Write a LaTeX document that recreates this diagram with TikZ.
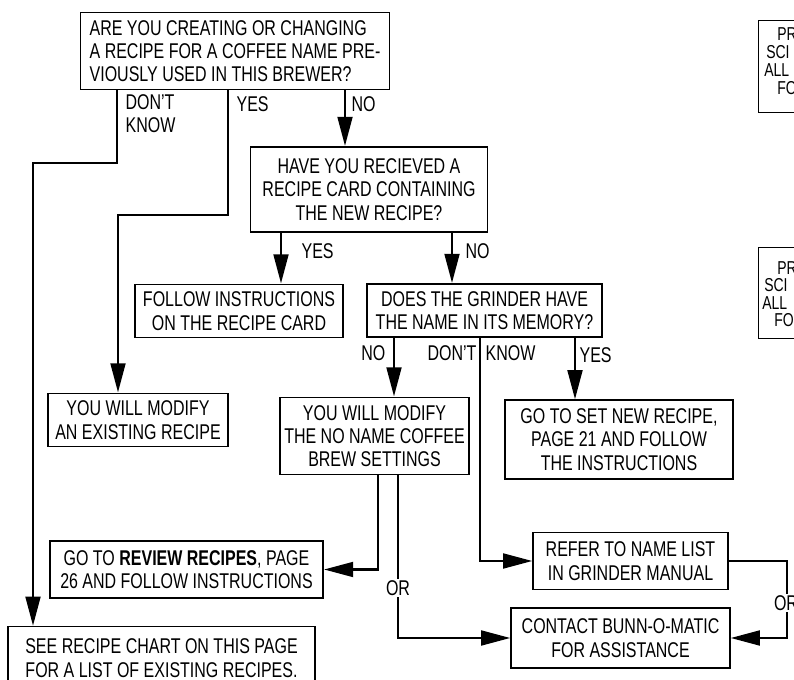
\documentclass[tikz,border=0pt]{standalone}
\usepackage{fontspec}
\setmainfont{Liberation Sans}[FakeStretch=0.75]
\usepackage{tikz}
\usetikzlibrary{arrows.meta, positioning, calc}

\begin{document}
\begin{tikzpicture}[
    x=0.75pt, y=-0.75pt,
    every node/.style={font=\fontsize{16}{17.5}\selectfont},
    box/.style={draw, rectangle, align=center, line width=1.1pt, inner sep=2pt},
    answer/.style={inner sep=1pt},
    ortag/.style={fill=white, inner sep=1pt},
    sidetext/.style={anchor=west, inner sep=0pt, font=\fontsize{14}{15}\selectfont},
    flow/.style={line width=2.2pt, -{Triangle[length=22pt, width=11pt]}},
    link/.style={line width=2.2pt}
]
    \useasboundingbox (0,0) rectangle (794,680);
    \clip (0,0) rectangle (794,680);

    % Questions
    \node[box, align=left, minimum width=232pt, minimum height=58pt] (recipe) at (235,51)
        {ARE YOU CREATING OR CHANGING\\A RECIPE FOR A COFFEE NAME PRE-\\VIOUSLY USED IN THIS BREWER?};
    \node[box, minimum width=178pt, minimum height=64pt] (card) at (369,189.5)
        {HAVE YOU RECIEVED A\\RECIPE CARD CONTAINING\\THE NEW RECIPE?};
    \node[box, minimum width=176pt, minimum height=40pt] (memory) at (484.5,310.5)
        {DOES THE GRINDER HAVE\\THE NAME IN ITS MEMORY?};

    % Actions
    \node[box, minimum width=156pt, minimum height=40pt] (follow) at (239,311)
        {FOLLOW INSTRUCTIONS\\ON THE RECIPE CARD};
    \node[box, minimum width=135pt, minimum height=40pt] (existing) at (138,420)
        {YOU WILL MODIFY\\AN EXISTING RECIPE};
    \node[box, minimum width=142pt, minimum height=58pt] (noname) at (374.5,436)
        {YOU WILL MODIFY\\THE NO NAME COFFEE\\BREW SETTINGS};
    \node[box, minimum width=171pt, minimum height=59pt] (setnew) at (619,439.5)
        {GO TO SET NEW RECIPE,\\PAGE 21 AND FOLLOW\\THE INSTRUCTIONS};
    \node[box, minimum width=205pt, minimum height=43pt] (review) at (186.5,569.5)
        {GO TO \textbf{REVIEW RECIPES}, PAGE\\26 AND FOLLOW INSTRUCTIONS};
    \node[box, minimum width=146pt, minimum height=43pt] (namelist) at (630.5,561)
        {REFER TO NAME LIST\\IN GRINDER MANUAL};
    \node[box, minimum width=164pt, minimum height=45pt] (contact) at (620.5,638)
        {CONTACT BUNN-O-MATIC\\FOR ASSISTANCE};
    \node[box, minimum width=230pt, minimum height=47pt] (chart) at (161.5,658)
        {SEE RECIPE CHART ON THIS PAGE\\FOR A LIST OF EXISTING RECIPES.};

    % Boxes cut at the right edge
    \node[box, anchor=north west, minimum width=45pt, minimum height=69pt] (sideA) at (758,20) {};
    \node[sidetext] (sideA1) at (777,34) {PR};
    \node[sidetext] (sideA2) at (766,52) {SCI};
    \node[sidetext] (sideA3) at (764,70) {ALL};
    \node[sidetext] (sideA4) at (777,88) {FO};
    \node[box, anchor=north west, minimum width=45pt, minimum height=68pt] (sideB) at (758,247) {};
    \node[sidetext] (sideB1) at (777,268) {PR};
    \node[sidetext] (sideB2) at (764,285) {SCI};
    \node[sidetext] (sideB3) at (762,303) {ALL};
    \node[sidetext] (sideB4) at (774,320) {FO};

    % First question
    \draw[flow] (recipe.south -| 117,0) -- (117,163) -| (chart.north -| 33,0);
    \draw[flow] (recipe.south -| 228,0) -- (228,215) -| (existing.north -| 118,0);
    \draw[flow] (recipe.south -| 345,0) -- (card.north -| 345,0);
    \node[answer, anchor=north west, align=left] (dk1) at (124,93) {DON'T\\KNOW};
    \node[answer, anchor=west] (yes1) at (235,104) {YES};
    \node[answer, anchor=west] (no1) at (350,104) {NO};

    % Recipe card
    \draw[flow] (card.south -| 281,0) -- (follow.north -| 281,0);
    \draw[flow] (card.south -| 452,0) -- (memory.north -| 452,0);
    \node[answer, anchor=west] (yes2) at (300,251) {YES};
    \node[answer, anchor=west] (no2) at (464,251) {NO};

    % Grinder memory
    \draw[flow] (memory.south -| 394,0) -- (noname.north -| 394,0);
    \draw[flow] (memory.south -| 480,0) |- (namelist.west);
    \draw[flow] (memory.south -| 575,0) -- (setnew.north -| 575,0);
    \node[answer, anchor=east] (no3) at (387,353) {NO};
    \node[answer, anchor=east] (dk3) at (478,353) {DON'T};
    \node[answer, anchor=west] (kn3) at (484,353) {KNOW};
    \node[answer, anchor=west] (yes3) at (578,355) {YES};

    % No name settings
    \draw[flow] (noname.south -| 378,0) |- (review.east);
    \draw[flow] (noname.south -| 398,0) |- (contact.west);
    \draw[flow] (namelist.east) -| (787,600) |- (contact.east);
    \node[answer, ortag] (or1) at (398,588) {OR};
    \node[answer, ortag] (or2) at (786,603) {OR};
\end{tikzpicture}
\end{document}
